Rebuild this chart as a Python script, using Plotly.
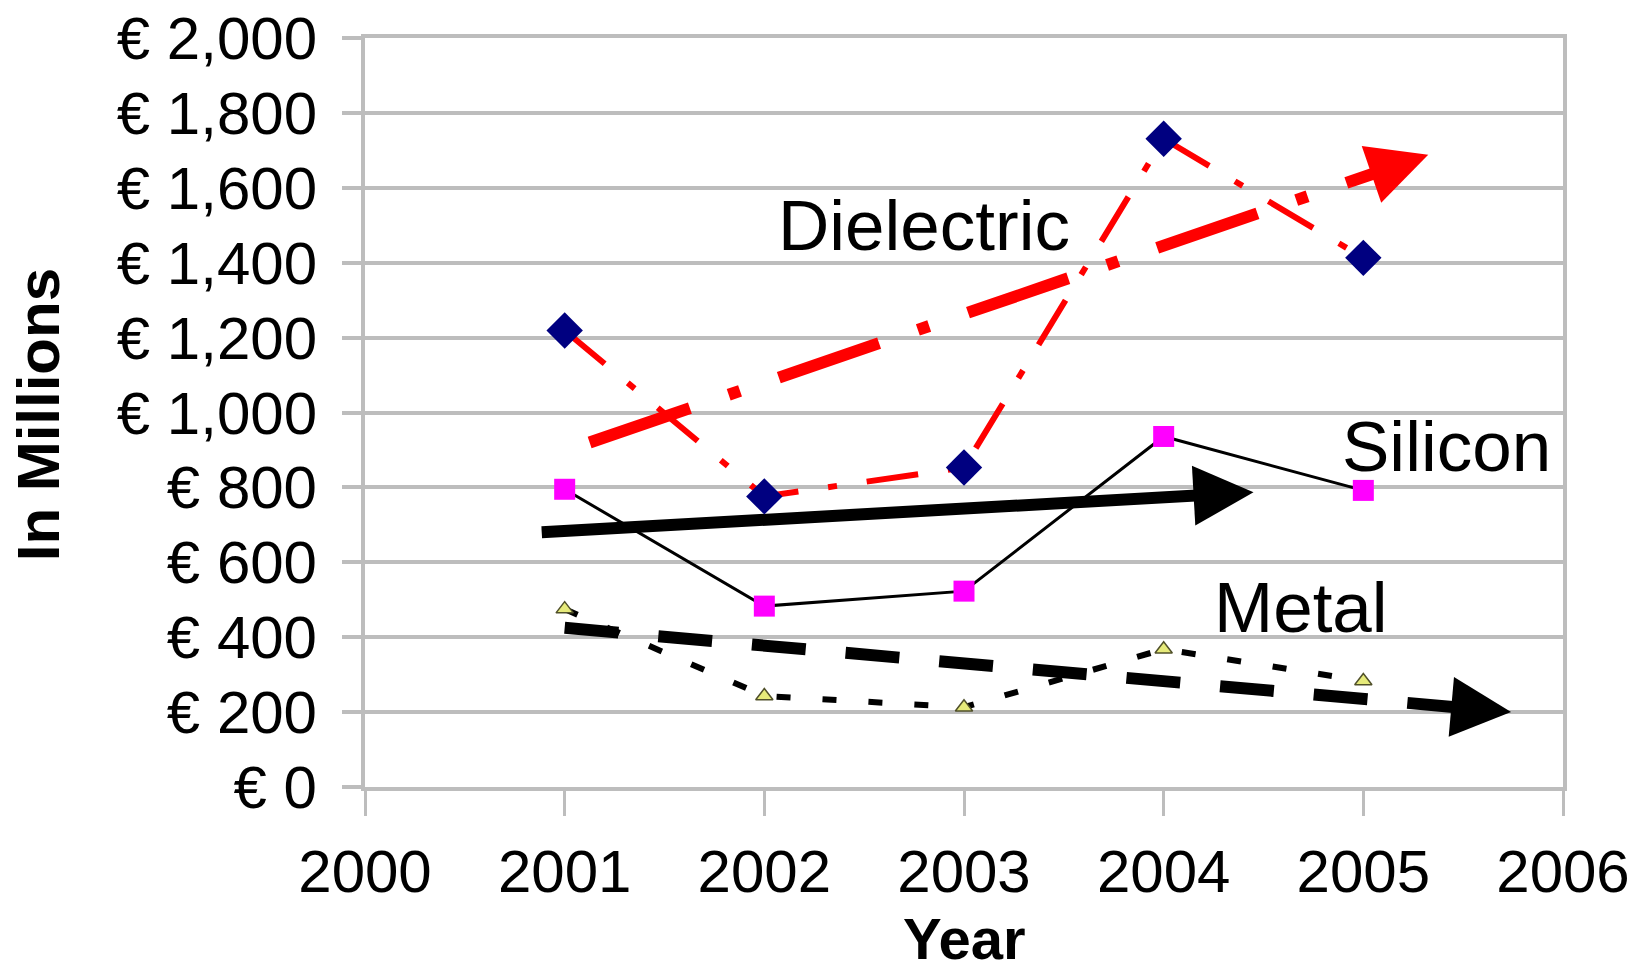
import plotly.graph_objects as go

# ---------------- data ----------------
years = [2001, 2002, 2003, 2004, 2005]
dielectric = [1219, 776, 853, 1731, 1413]
silicon = [795, 483, 523, 936, 792]
metal = [475, 243, 213, 368, 283]

# hand-drawn trend arrows: start point and arrow tip
trend_names = ["Dielectric trend", "Silicon trend", "Metal trend"]
trend_x0 = [2001.125, 2000.885, 2001.0]
trend_y0 = [920, 680, 425]
trend_x1 = [2005.325, 2004.45, 2005.74]
trend_y1 = [1688, 787, 200]

label_text = ["Dielectric", "Silicon", "Metal"]
label_x = [2002.80, 2005.415, 2004.69]
label_y = [1500, 908, 479]

x_ticks = [2000, 2001, 2002, 2003, 2004, 2005, 2006]
y_ticks = [0, 200, 400, 600, 800, 1000, 1200, 1400, 1600, 1800, 2000]
y_ticktext = [f"€ {v:,}" for v in y_ticks]

# ---------------- styles ----------------
FONT = "Liberation Sans, Arial, sans-serif"
GRID = "#bdbdbd"
trend_colors = ["#ff0000", "#000000", "#000000"]
trend_dash = ["106px,41px,12px,41px", "solid", "54px,40px"]
TREND_W = 12

fig = go.Figure()

# trend lines (end a little before the tip; the arrowhead covers the rest)
for i in range(3):
    k = 0.05
    xe = trend_x1[i] - k * (trend_x1[i] - trend_x0[i])
    ye = trend_y1[i] - k * (trend_y1[i] - trend_y0[i])
    fig.add_trace(go.Scatter(
        x=[trend_x0[i], xe], y=[trend_y0[i], ye], mode="lines",
        name=trend_names[i], showlegend=False, hoverinfo="skip",
        line=dict(color=trend_colors[i], width=TREND_W, dash=trend_dash[i]),
    ))
    fig.add_annotation(
        x=trend_x1[i], y=trend_y1[i], ax=xe, ay=ye, xref="x", yref="y",
        axref="x", ayref="y", text="", showarrow=True, arrowhead=2,
        arrowsize=1, arrowwidth=TREND_W, arrowcolor=trend_colors[i], standoff=0,
    )

# data series
fig.add_trace(go.Scatter(
    x=years, y=dielectric, mode="lines+markers", name="Dielectric",
    line=dict(color="#ff0000", width=6, dash="52px,30px,9px,30px"),
    marker=dict(symbol="diamond", size=28, color="#000080"),
))
fig.add_trace(go.Scatter(
    x=years, y=silicon, mode="lines+markers", name="Silicon",
    line=dict(color="#000000", width=3),
    marker=dict(symbol="square", size=21, color="#ff00ff"),
))
fig.add_trace(go.Scatter(
    x=years, y=metal, mode="lines+markers", name="Metal",
    line=dict(color="#000000", width=6, dash="14px,32px"),
    marker=dict(symbol="triangle-up", size=15, color="#e6ea7a",
                line=dict(color="#50502a", width=1.5)),
))

# series labels
for t, x, y in zip(label_text, label_x, label_y):
    fig.add_annotation(x=x, y=y, xref="x", yref="y", text=t, showarrow=False,
                       xanchor="center", yanchor="middle",
                       font=dict(family=FONT, size=71, color="#000000"))

# axis titles
fig.add_annotation(x=2003, y=-0.2027, xref="x", yref="paper", text="<b>Year</b>",
                   showarrow=False, xanchor="center", yanchor="middle",
                   font=dict(family=FONT, size=58, color="#000000"))
fig.add_annotation(x=-0.2725, y=0.497, xref="paper", yref="paper",
                   text="<b>In Millions</b>", textangle=-90, showarrow=False,
                   xanchor="center", yanchor="middle",
                   font=dict(family=FONT, size=60, color="#000000"))

fig.update_layout(
    width=1644, height=973,
    margin=dict(l=365, r=81, t=38, b=186, pad=0),
    paper_bgcolor="white", plot_bgcolor="white",
    showlegend=False,
    font=dict(family=FONT, size=60, color="#000000"),
    xaxis=dict(
        range=[2000, 2006], tickvals=x_ticks, ticktext=[str(v) for v in x_ticks],
        showgrid=False, zeroline=False, automargin=False,
        showline=True, linecolor=GRID, linewidth=4, mirror=True,
        ticks="outside", ticklen=25, tickwidth=3, tickcolor=GRID,
        tickfont=dict(family=FONT, size=60, color="#000000"),
        ticklabelstandoff=4,
    ),
    yaxis=dict(
        range=[0, 2000], tickvals=y_ticks, ticktext=y_ticktext,
        showgrid=True, gridcolor=GRID, gridwidth=4, zeroline=False, automargin=False,
        showline=True, linecolor=GRID, linewidth=4, mirror=True,
        ticks="outside", ticklen=19, tickwidth=4, tickcolor=GRID,
        tickfont=dict(family=FONT, size=60, color="#000000"),
        ticklabelstandoff=13,
    ),
)

fig.write_html("out.html")
